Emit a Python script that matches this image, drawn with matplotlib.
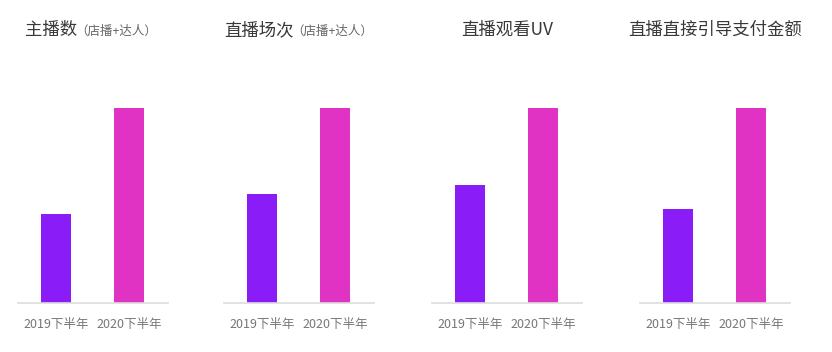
import numpy as np
import matplotlib
matplotlib.use("Agg")
import matplotlib.pyplot as plt

plt.rcParams['font.family'] = ['Noto Sans CJK SC', 'DejaVu Sans']

# 数据（以2020下半年为100的相对高度）
periods = ['2019下半年', '2020下半年']
titles = ['主播数', '直播场次', '直播观看UV', '直播直接引导支付金额']
subtitles = ['（店播+达人）', '（店播+达人）', '', '']
v2019 = [45.6, 56, 60.5, 48]
v2020 = [100, 100, 100, 100]

c2019 = '#8A1DF7'
c2020 = '#E133C3'

W, H = 832, 352
fig = plt.figure(figsize=(W / 100, H / 100), dpi=100)

ax_left = [18, 224, 432, 640]   # px
ax_w = 150
base_y = 303
top_y = 108

for i in range(4):
    ax = fig.add_axes([ax_left[i] / W, (H - base_y) / H, ax_w / W, (base_y - top_y) / H])
    x = np.arange(len(periods))
    ax.bar(x, [v2019[i], v2020[i]], width=0.41, color=[c2019, c2020])
    ax.set_xlim(-0.52, 1.534)
    ax.set_ylim(0, 100)
    ax.set_yticks([])
    ax.set_xticks(x)
    ax.set_xticklabels(periods, fontsize=9, color='#777777')
    ax.tick_params(axis='x', length=0, pad=10.5)
    for s in ['top', 'right', 'left']:
        ax.spines[s].set_visible(False)
    ax.spines['bottom'].set_color('#dddddd')
    ax.spines['bottom'].set_linewidth(1.2)

# 标题
title_x = [25, 224, 461, 628]
ty = 1 - 30 / H
for i in range(4):
    t = fig.text(title_x[i] / W, ty, titles[i], fontsize=12.5, color='#383838',
                 ha='left', va='center')
    if subtitles[i]:
        fig.canvas.draw()
        bb = t.get_window_extent()
        fig.text((bb.x1 - 2) / W, ty - 1 / H, subtitles[i], fontsize=9, color='#666666',
                 ha='left', va='center')

fig.savefig('out.png', dpi=100, facecolor='white')
